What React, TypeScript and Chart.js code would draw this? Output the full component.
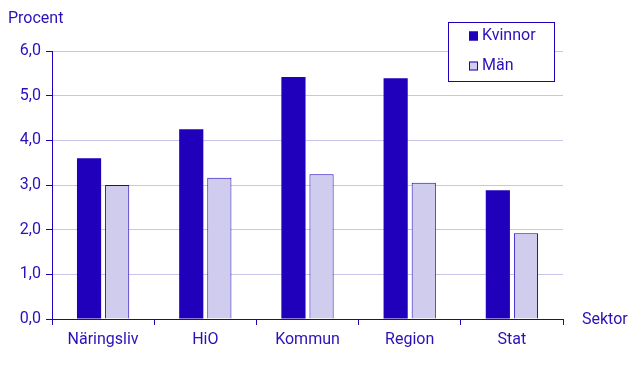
import React, { useEffect, useRef } from "react";
import { Chart, registerables } from "chart.js";

Chart.register(...registerables);

const categories = ["Näringsliv", "HiO", "Kommun", "Region", "Stat"];
const kvinnor = [3.6, 4.25, 5.42, 5.39, 2.88];
const man = [3.0, 3.16, 3.24, 3.05, 1.92];
const seriesNames = ["Kvinnor", "Män"];
const yTitle = "Procent";
const xTitle = "Sektor";

const DARK = "#2000bb";
const LIGHT = "#d0ccee";
const GRID = "#c9c5e9";
const TEXT = "#2a10b8";
const FONT = "Roboto, 'Liberation Sans', sans-serif";
const FS = 16;

const overlayPlugin = {
  id: "overlay",
  afterDraw(chart: any) {
    const ctx = chart.ctx;
    ctx.save();
    ctx.font = `${FS}px ${FONT}`;
    ctx.fillStyle = TEXT;
    ctx.textBaseline = "middle";
    ctx.textAlign = "left";
    ctx.fillText(yTitle, 8, 19);
    ctx.fillText(xTitle, 582, 320);
    // legend box
    ctx.fillStyle = "#ffffff";
    ctx.fillRect(448, 22, 106, 59);
    ctx.strokeStyle = DARK;
    ctx.lineWidth = 1;
    ctx.strokeRect(448.5, 22.5, 106, 59);
    const items = [
      { label: seriesNames[0], fill: DARK, y: 35.5 },
      { label: seriesNames[1], fill: LIGHT, y: 65.5 },
    ];
    items.forEach((it) => {
      ctx.fillStyle = it.fill;
      ctx.fillRect(469, it.y - 4, 9, 9);
      ctx.strokeStyle = DARK;
      ctx.strokeRect(469.5, it.y - 3.5, 8, 8);
      ctx.fillStyle = TEXT;
      ctx.fillText(it.label, 482, it.y);
    });
    ctx.restore();
  },
};

export default function App() {
  const ref = useRef<HTMLCanvasElement>(null);
  useEffect(() => {
    document.body.style.margin = "0";
    const chart = new Chart(ref.current!, {
      type: "bar",
      data: {
        labels: categories,
        datasets: [
          {
            label: seriesNames[0],
            data: kvinnor,
            backgroundColor: DARK,
            borderColor: DARK,
            borderWidth: 0,
            barPercentage: 0.86,
            categoryPercentage: 0.55,
          },
          {
            label: seriesNames[1],
            data: man,
            backgroundColor: LIGHT,
            borderColor: DARK,
            borderWidth: 1,
            barPercentage: 0.86,
            categoryPercentage: 0.55,
          },
        ],
      },
      options: {
        animation: false,
        responsive: false,
        maintainAspectRatio: false,
        layout: { padding: { top: 51, right: 80, left: 0, bottom: 0 } },
        plugins: { legend: { display: false }, tooltip: { enabled: false } },
        scales: {
          x: {
            grid: {
              drawOnChartArea: false,
              drawTicks: true,
              tickLength: 6,
              color: DARK,
              offset: true,
            },
            border: { color: DARK, width: 1 },
            ticks: {
              color: TEXT,
              font: { family: FONT, size: FS },
              padding: 5,
              maxRotation: 0,
            },
            afterFit(scale: any) {
              scale.height = 67;
            },
          },
          y: {
            min: 0,
            max: 6,
            grid: {
              color: GRID,
              tickColor: DARK,
              tickLength: 6,
            },
            border: { color: DARK, width: 1 },
            ticks: {
              stepSize: 1,
              color: TEXT,
              font: { family: FONT, size: FS },
              padding: 5,
              callback: (v: any) => Number(v).toFixed(1).replace(".", ","),
            },
            afterFit(scale: any) {
              scale.width = 52;
            },
          },
        },
      },
      plugins: [overlayPlugin],
    });
    return () => chart.destroy();
  }, []);
  return <canvas ref={ref} width={643} height={386} style={{ display: "block" }} />;
}
